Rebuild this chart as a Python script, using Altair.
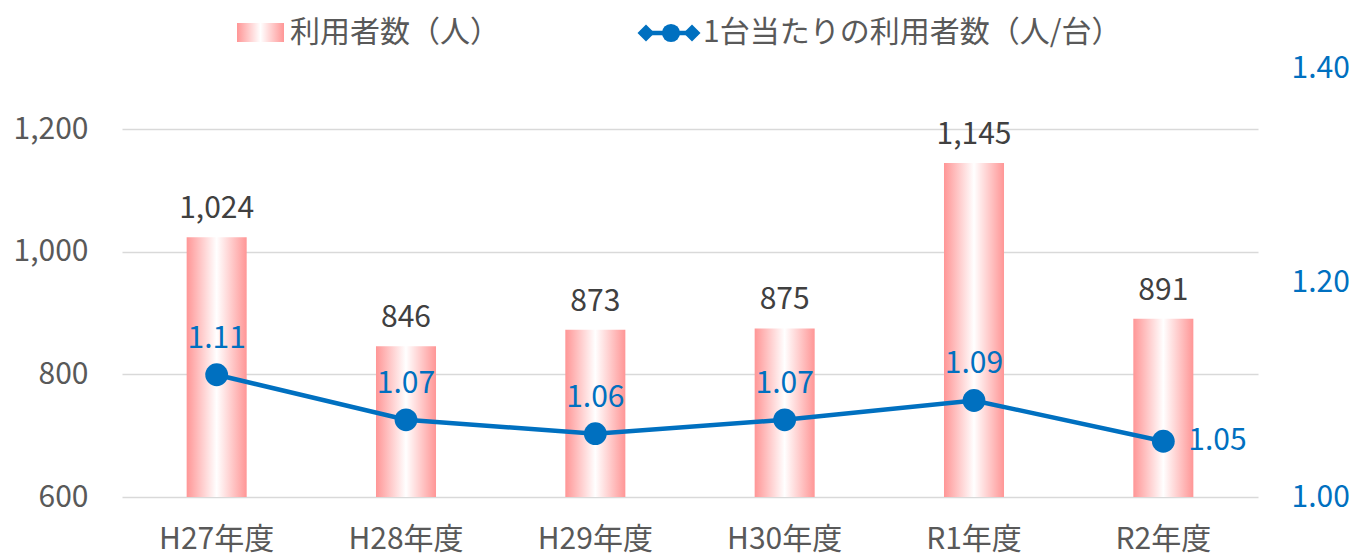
import altair as alt
import pandas as pd

years = ["H27年度", "H28年度", "H29年度", "H30年度", "R1年度", "R2年度"]
users = [1024, 846, 873, 875, 1145, 891]
per_unit = [1.114, 1.072, 1.059, 1.072, 1.090, 1.052]
left_ticks = [600, 800, 1000, 1200]
right_ticks = [1.0, 1.2, 1.4]

df = pd.DataFrame({"year": years, "users": users, "per": per_unit})
df["last"] = [False] * (len(years) - 1) + [True]

JP = "Noto Sans CJK JP"
BLUE = "#0070C0"
PINK = "#FF9696"
FS = 30

grad = alt.Gradient(
    gradient="linear", x1=0, x2=1, y1=0, y2=0,
    stops=[alt.GradientStop(color=PINK, offset=0),
           alt.GradientStop(color="#FFFFFF", offset=0.5),
           alt.GradientStop(color=PINK, offset=1)],
)

xenc = alt.X("year:N", sort=years, title=None,
             scale=alt.Scale(paddingInner=0.683, paddingOuter=0.3415),
             axis=alt.Axis(labelAngle=0, labelFont=JP, labelFontSize=FS, labelColor="#595959",
                           labelPadding=27, domain=False, ticks=False, grid=False))

yl = alt.Y("users:Q", title=None,
           scale=alt.Scale(domain=[600, 1300], nice=False, zero=False),
           axis=alt.Axis(values=left_ticks, format=",.0f", labelFont=JP, labelFontSize=FS,
                         labelColor="#595959", labelPadding=34, domain=False, ticks=False,
                         grid=True, gridColor="#D9D9D9", gridWidth=1.5, orient="left"))

bars = alt.Chart(df).mark_bar(fill=grad, clip=True).encode(x=xenc, y=yl)
bar_text = alt.Chart(df).mark_text(font=JP, fontSize=FS, color="#404040", baseline="alphabetic", dy=-19).encode(
    x=xenc, y=yl, text=alt.Text("users:Q", format=",.0f"))
left = alt.layer(bars, bar_text)

yr = alt.Y("per:Q", title=None,
           scale=alt.Scale(domain=[1.0, 1.4], nice=False, zero=False),
           axis=alt.Axis(values=right_ticks, format=".2f", labelFont=JP, labelFontSize=FS,
                         labelColor=BLUE, labelPadding=33, domain=False, ticks=False,
                         grid=False, orient="right"))

line = alt.Chart(df).mark_line(color=BLUE, strokeWidth=4.5).encode(x=xenc, y=yr)
pts = alt.Chart(df).mark_point(filled=True, color=BLUE, size=520, opacity=1, shape="circle").encode(
    x=xenc, y=yr)
ltxt = alt.Chart(df).transform_filter("!datum.last").mark_text(
    font=JP, fontSize=FS, color=BLUE, baseline="alphabetic", dy=-27).encode(
    x=xenc, y=yr, text=alt.Text("per:Q", format=".2f"))
ltxt2 = alt.Chart(df).transform_filter("datum.last").mark_text(
    font=JP, fontSize=FS, color=BLUE, baseline="middle", align="left", dx=25).encode(
    x=xenc, y=yr, text=alt.Text("per:Q", format=".2f"))
right = alt.layer(line, pts, ltxt, ltxt2)

# legend
one = pd.DataFrame({"k": [0]})
lg_rect = alt.Chart(one).mark_rect(fill=grad).encode(
    x=alt.value(115), x2=alt.value(162), y=alt.value(-45), y2=alt.value(-26))
lg_t1 = alt.Chart(one).mark_text(font=JP, fontSize=FS, color="#595959", align="left", baseline="middle").encode(
    x=alt.value(168), y=alt.value(-35), text=alt.value("利用者数（人）"))
lg_rule = alt.Chart(one).mark_rule(color=BLUE, strokeWidth=4.5).encode(
    x=alt.value(518), x2=alt.value(576), y=alt.value(-35))
lg_d1 = alt.Chart(one).mark_point(shape="diamond", filled=True, color=BLUE, size=290, opacity=1).encode(
    x=alt.value(524), y=alt.value(-35))
lg_d2 = alt.Chart(one).mark_point(shape="diamond", filled=True, color=BLUE, size=290, opacity=1).encode(
    x=alt.value(570), y=alt.value(-35))
lg_c = alt.Chart(one).mark_point(shape="circle", filled=True, color=BLUE, size=330, opacity=1).encode(
    x=alt.value(549), y=alt.value(-35))
lg_t2 = alt.Chart(one).mark_text(font=JP, fontSize=FS, color="#595959", align="left", baseline="middle").encode(
    x=alt.value(581), y=alt.value(-35), text=alt.value("1台当たりの利用者数（人/台）"))
legend = alt.layer(lg_rect, lg_t1, lg_rule, lg_d1, lg_d2, lg_c, lg_t2)

chart = alt.layer(left, right, legend).resolve_scale(y="independent").properties(
    width=1136, height=429,
    background="white",
    autosize=alt.AutoSizeParams(type="none"),
    padding={"left": 114, "top": 60, "right": 91, "bottom": 59},
).configure_view(stroke=None)

chart.save("out.html", embed_options={"renderer": "svg", "actions": False})
